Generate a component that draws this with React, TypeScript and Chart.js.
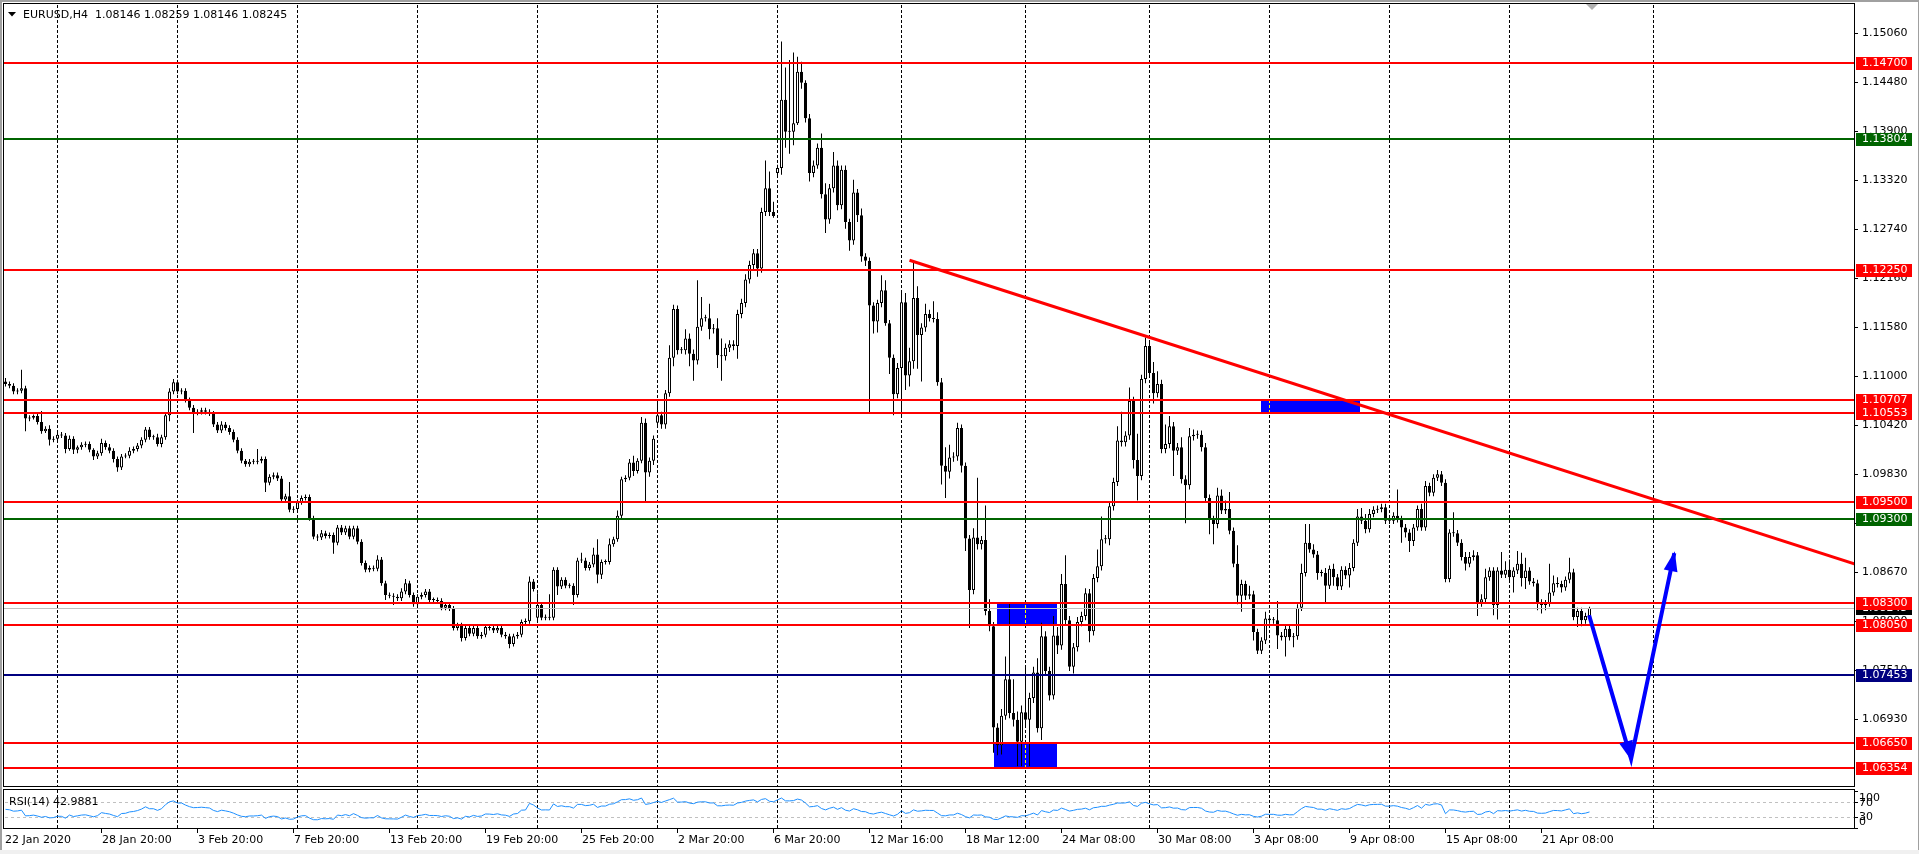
import React, { useEffect, useRef } from "react";
import { Chart, registerables } from "chart.js";

Chart.register(...registerables);

// ---------- data (prices in 1/10000 units) ----------
const PIP = 10000;
const firstOpen = 11093;
const closes = [
  11090, 11088, 11081, 11082, 11085, 11049, 11050, 11052, 11045, 11034,
  11037, 11024, 11025, 11030, 11029, 11013, 11025, 11012, 11015, 11018,
  11019, 11012, 11004, 11008, 11020, 11015, 11011, 11001, 10991, 11004,
  11005, 11011, 11013, 11017, 11024, 11036, 11027, 11027, 11019, 11027,
  11053, 11081, 11092, 11081, 11082, 11071, 11062, 11056, 11057, 11059,
  11057, 11055, 11042, 11035, 11042, 11038, 11033, 11024, 11011, 10999,
  10995, 10998, 10998, 10999, 11001, 10973, 10980, 10982, 10978, 10953,
  10957, 10941, 10942, 10950, 10955, 10956, 10931, 10909, 10908, 10913,
  10910, 10911, 10902, 10920, 10914, 10919, 10909, 10919, 10903, 10878,
  10870, 10872, 10871, 10882, 10854, 10840, 10839, 10838, 10836, 10844,
  10854, 10840, 10829, 10838, 10840, 10844, 10834, 10834, 10833, 10825,
  10828, 10824, 10801, 10804, 10789, 10801, 10794, 10801, 10791, 10793,
  10802, 10801, 10798, 10801, 10793, 10791, 10782, 10791, 10793, 10808,
  10809, 10856, 10847, 10828, 10813, 10814, 10813, 10870, 10850, 10858,
  10851, 10851, 10840, 10881, 10881, 10872, 10876, 10888, 10864, 10879,
  10879, 10900, 10906, 10934, 10977, 10979, 10997, 10987, 10999, 11044,
  10985, 10999, 11025, 11053, 11042, 11079, 11121, 11179, 11130, 11130,
  11144, 11126, 11118, 11158, 11168, 11168, 11155, 11156, 11124, 11123,
  11133, 11137, 11135, 11173, 11186, 11214, 11231, 11245, 11227, 11294,
  11322, 11294, 11289, 11346, 11427, 11389, 11389, 11399, 11460, 11447,
  11405, 11340, 11349, 11370, 11315, 11285, 11322, 11349, 11302, 11344,
  11282, 11260, 11317, 11290, 11241, 11236, 11183, 11164, 11186, 11201,
  11162, 11121, 11078, 11109, 11187, 11100, 11117, 11192, 11148, 11157,
  11173, 11168, 11167, 11092, 10993, 10986, 11003, 11004, 11038, 10993,
  10907, 10846, 10908, 10900, 10905, 10821, 10803, 10683, 10662, 10697,
  10740, 10700, 10692, 10666, 10701, 10692, 10718, 10748, 10682, 10791,
  10750, 10721, 10792, 10780, 10853, 10810, 10755, 10778, 10808, 10815,
  10842, 10797, 10860, 10874, 10906, 10906, 10945, 10974, 11023, 11021,
  11029, 11070, 11000, 10981, 11096, 11135, 11103, 11079, 11090, 11013,
  11019, 11040, 11011, 11015, 10977, 10970, 11028, 11030, 11030, 11015,
  10955, 10930, 10924, 10958, 10940, 10942, 10916, 10877, 10839, 10853,
  10839, 10841, 10796, 10774, 10786, 10812, 10810, 10810, 10792, 10790,
  10800, 10790, 10791, 10825, 10866, 10902, 10894, 10888, 10866, 10866,
  10851, 10871, 10861, 10850, 10870, 10863, 10872, 10902, 10933, 10928,
  10918, 10936, 10941, 10942, 10944, 10928, 10928, 10934, 10930, 10920,
  10914, 10904, 10920, 10942, 10920, 10969, 10961, 10979, 10983, 10973,
  10859, 10914, 10913, 10902, 10885, 10877, 10885, 10887, 10831, 10835,
  10861, 10869, 10828, 10869, 10864, 10870, 10861, 10869, 10877, 10860,
  10869, 10856, 10854, 10831, 10828, 10830, 10843, 10854, 10853, 10849,
  10858, 10867, 10814, 10821, 10810, 10815, 10824.5,
];
const upperWicks = [
  4, 3, 3, 3, 22, 3, 3, 2, 3, 13,
  3, 4, 3, 3, 3, 3, 4, 3, 2, 3,
  3, 3, 2, 3, 5, 3, 4, 3, 3, 3,
  3, 4, 3, 3, 3, 3, 3, 3, 4, 3,
  3, 4, 4, 3, 3, 3, 3, 3, 3, 3,
  3, 3, 3, 3, 4, 3, 3, 3, 3, 3,
  2, 3, 3, 14, 3, 3, 3, 3, 3, 3,
  3, 17, 3, 3, 3, 3, 3, 3, 3, 4,
  3, 3, 3, 3, 3, 3, 3, 3, 3, 3,
  3, 3, 3, 5, 3, 3, 3, 3, 3, 4,
  5, 3, 3, 3, 3, 3, 3, 3, 3, 3,
  3, 3, 3, 3, 3, 3, 3, 3, 3, 3,
  3, 3, 3, 3, 3, 3, 3, 3, 3, 3,
  3, 6, 3, 14, 3, 3, 27, 3, 3, 3,
  3, 3, 3, 3, 9, 3, 3, 8, 18, 3,
  3, 7, 3, 6, 3, 3, 4, 8, 3, 7,
  5, 4, 4, 19, 4, 4, 15, 5, 4, 4,
  11, 6, 5, 55, 25, 4, 17, 5, 12, 20,
  5, 5, 5, 5, 5, 6, 5, 5, 5, 5,
  33, 20, 12, 4, 69, 38, 85, 84, 18, 12,
  3, 5, 6, 5, 17, 13, 5, 16, 6, 5,
  5, 4, 15, 4, 8, 4, 4, 4, 4, 18,
  12, 4, 4, 6, 11, 11, 16, 44, 14, 5,
  12, 5, 20, 8, 5, 22, 15, 5, 6, 4,
  4, 4, 11, 71, 5, 41, 14, 5, 5, 8,
  27, 90, 40, 10, 8, 54, 6, 7, 17, 16,
  6, 5, 23, 10, 12, 34, 5, 5, 6, 5,
  6, 5, 5, 20, 27, 5, 5, 5, 17, 34,
  5, 16, 5, 31, 5, 10, 5, 13, 15, 5,
  23, 12, 5, 5, 12, 5, 10, 6, 5, 5,
  5, 4, 4, 9, 7, 10, 20, 4, 22, 5,
  4, 10, 4, 4, 4, 8, 4, 4, 23, 4,
  4, 4, 4, 4, 11, 22, 22, 6, 4, 4,
  6, 4, 6, 4, 4, 4, 6, 4, 9, 10,
  8, 6, 4, 4, 4, 4, 4, 4, 31, 4,
  4, 4, 4, 4, 6, 6, 4, 4, 5, 4,
  4, 4, 24, 4, 4, 6, 6, 6, 4, 6,
  10, 4, 4, 4, 22, 10, 12, 4, 15, 13,
  15, 4, 4, 4, 4, 4, 34, 9, 7, 4,
  4, 17, 4, 4, 4, 4, 1.4,
];
const lowerWicks = [
  3, 3, 3, 3, 3, 15, 3, 2, 3, 3,
  2, 7, 3, 3, 3, 5, 2, 5, 4, 3,
  3, 3, 4, 3, 3, 3, 3, 4, 5, 3,
  2, 3, 3, 3, 3, 3, 3, 3, 3, 4,
  3, 7, 3, 3, 3, 3, 3, 24, 3, 3,
  3, 3, 3, 3, 3, 3, 3, 3, 3, 3,
  3, 3, 3, 3, 3, 11, 3, 3, 3, 4,
  3, 3, 4, 3, 3, 3, 3, 3, 4, 3,
  3, 3, 13, 3, 3, 3, 3, 3, 3, 3,
  3, 3, 3, 3, 3, 6, 3, 10, 3, 3,
  3, 3, 3, 3, 3, 3, 3, 3, 3, 3,
  3, 3, 3, 3, 4, 3, 3, 3, 3, 3,
  3, 3, 3, 3, 3, 3, 5, 3, 3, 3,
  3, 3, 3, 3, 3, 3, 3, 3, 10, 3,
  3, 3, 12, 3, 3, 3, 3, 3, 10, 5,
  3, 3, 3, 3, 3, 3, 3, 6, 3, 3,
  34, 5, 5, 4, 5, 5, 4, 10, 5, 4,
  5, 15, 24, 5, 5, 4, 12, 5, 15, 29,
  5, 5, 5, 15, 5, 5, 5, 5, 10, 5,
  5, 5, 2, 5, 8, 19, 26, 16, 2, 7,
  5, 10, 5, 4, 5, 16, 5, 5, 6, 5,
  8, 12, 5, 8, 6, 6, 127, 14, 13, 5,
  3, 19, 25, 5, 56, 17, 13, 9, 40, 55,
  5, 4, 4, 4, 22, 31, 8, 5, 5, 8,
  15, 45, 5, 6, 6, 5, 6, 30, 12, 11,
  5, 6, 8, 29, 29, 6, 55, 6, 5, 14,
  5, 6, 5, 10, 5, 5, 5, 8, 5, 5,
  5, 13, 5, 5, 5, 5, 7, 5, 5, 5,
  5, 5, 10, 29, 5, 5, 5, 12, 5, 5,
  5, 5, 30, 5, 5, 45, 5, 5, 5, 5,
  5, 18, 24, 5, 4, 4, 4, 4, 10, 19,
  5, 4, 10, 4, 4, 4, 4, 4, 16, 4,
  23, 4, 12, 4, 4, 4, 4, 4, 8, 4,
  21, 4, 10, 4, 4, 4, 14, 4, 4, 4,
  5, 4, 4, 4, 4, 4, 4, 4, 4, 18,
  6, 13, 6, 4, 4, 4, 4, 4, 4, 4,
  4, 4, 4, 4, 4, 8, 4, 4, 16, 5,
  4, 4, 12, 17, 4, 4, 4, 18, 4, 10,
  13, 4, 4, 9, 10, 6, 4, 4, 4, 6,
  4, 4, 4, 12, 7, 4, 0,
];
// weekend gaps: bars whose open differs from the previous close
const gapBars = [133, 163, 193];
const gapOpens = [10813, 11044, 11340];

const symbolHeader = "EURUSD,H4  1.08146 1.08259 1.08146 1.08245";
const rsiHeader = "RSI(14) 42.9881";
const rsiPeriod = 14;

const priceTickLabels = [
  "1.15060", "1.14480", "1.13900", "1.13320", "1.12740", "1.12160", "1.11580",
  "1.11000", "1.10420", "1.09830", "1.09250", "1.08670", "1.08090", "1.07510", "1.06930",
];

const levelPrices = [1.147, 1.13804, 1.1225, 1.10707, 1.10553, 1.095, 1.093, 1.083, 1.0805, 1.07453, 1.0665, 1.06354];
const levelLabels = ["1.14700", "1.13804", "1.12250", "1.10707", "1.10553", "1.09500", "1.09300", "1.08300", "1.08050", "1.07453", "1.06650", "1.06354"];
const levelColors = ["#ff0000", "#006400", "#ff0000", "#ff0000", "#ff0000", "#ff0000", "#006400", "#ff0000", "#ff0000", "#000080", "#ff0000", "#ff0000"];

const bidPrice = 1.08245;
const bidLabel = "1.08245";

const timeLabels = [
  "22 Jan 2020", "28 Jan 20:00", "3 Feb 20:00", "7 Feb 20:00", "13 Feb 20:00", "19 Feb 20:00",
  "25 Feb 20:00", "2 Mar 20:00", "6 Mar 20:00", "12 Mar 16:00", "18 Mar 12:00", "24 Mar 08:00",
  "30 Mar 08:00", "3 Apr 08:00", "9 Apr 08:00", "15 Apr 08:00", "21 Apr 08:00",
];
const timeLabelBars = [0, 24, 48, 72, 96, 120, 144, 168, 192, 216, 240, 264, 288, 312, 336, 360, 384];
const gridBars = [13, 43, 73, 103, 133, 163, 193, 224, 255, 286, 316, 346, 376, 412];

const boxStartBars = [313.8, 248.0, 247.0];
const boxEndBars = [338.6, 262.85, 262.85];
const boxLows = [1.1057, 1.0805, 1.06354];
const boxHighs = [1.10707, 1.083, 1.0665];

const trendBars = [226, 462.4];
const trendPrices = [1.12367, 1.08767];

const arrowBars = [395.9, 406.4, 417.2];
const arrowPrices = [1.08159, 1.06457, 1.08895];

const rsiLevels = [70, 30];
const rsiAxisValues = [100, 70, 30, 0];
const rsiAxisLabels = ["100", "70", "30", "0"];

// ---------- derived candle table ----------
const opens = closes.map((c, i) => {
  const g = gapBars.indexOf(i);
  if (g >= 0) return gapOpens[g];
  return i === 0 ? firstOpen : closes[i - 1];
});
const highs = closes.map((c, i) => Math.max(opens[i], c) + upperWicks[i]);
const lows = closes.map((c, i) => Math.min(opens[i], c) - lowerWicks[i]);

function wilderRsi(values: number[], period: number) {
  let sumAbs = 0;
  for (let i = 1; i <= period && i < values.length; i++) sumAbs += Math.abs(values[i] - values[i - 1]);
  let ag = sumAbs / period / 2;
  let al = ag;
  const out = [50];
  for (let i = 1; i < values.length; i++) {
    const d = values[i] - values[i - 1];
    ag = (ag * (period - 1) + Math.max(d, 0)) / period;
    al = (al * (period - 1) + Math.max(-d, 0)) / period;
    out.push(al === 0 ? 100 : 100 - 100 / (1 + ag / al));
  }
  return out;
}
const rsiValues = wilderRsi(closes, rsiPeriod);

const FONT = "11px 'DejaVu Sans'";

const mtPlugin = {
  id: "mt4look",
  beforeDraw(chart: any) {
    const ctx = chart.ctx;
    ctx.save();
    ctx.fillStyle = "#ffffff";
    ctx.fillRect(0, 0, chart.width, chart.height);
    ctx.restore();
  },
  beforeDatasetsDraw(chart: any) {
    const ctx = chart.ctx;
    const xs = chart.scales.x;
    const ys = chart.scales.y;
    ctx.save();
    // background rectangles
    ctx.fillStyle = "#0000ff";
    for (let i = 0; i < boxStartBars.length; i++) {
      const x0 = Math.round(xs.getPixelForValue(boxStartBars[i]));
      const x1 = Math.round(xs.getPixelForValue(boxEndBars[i]));
      const y0 = Math.round(ys.getPixelForValue(boxHighs[i]));
      const y1 = Math.round(ys.getPixelForValue(boxLows[i]));
      ctx.fillRect(x0, y0, x1 - x0, y1 - y0);
    }
    // vertical dashed grid (inverted like MT4)
    ctx.globalCompositeOperation = "difference";
    ctx.strokeStyle = "#ffffff";
    ctx.lineWidth = 1;
    ctx.setLineDash([3, 2]);
    for (const b of gridBars) {
      const x = Math.floor(xs.getPixelForValue(b)) + 0.5;
      ctx.beginPath();
      ctx.moveTo(x, 5);
      ctx.lineTo(x, 786);
      ctx.moveTo(x, 790);
      ctx.lineTo(x, 828);
      ctx.stroke();
    }
    ctx.restore();
    // RSI level lines
    const yr = chart.scales.yRsi;
    ctx.save();
    ctx.strokeStyle = "#c0c0c0";
    ctx.setLineDash([3, 3]);
    ctx.lineWidth = 1;
    for (const lv of rsiLevels) {
      const y = Math.round(yr.getPixelForValue(lv)) + 0.5;
      ctx.beginPath();
      ctx.moveTo(5, y);
      ctx.lineTo(1854, y);
      ctx.stroke();
    }
    ctx.restore();
  },
  afterDatasetDraw(chart: any, args: any) {
    if (args.index !== 0) return;
    const ctx = chart.ctx;
    const ys = chart.scales.y;
    ctx.save();
    const yb = Math.round(ys.getPixelForValue(bidPrice));
    ctx.fillStyle = "#c0c0c0";
    ctx.fillRect(4, yb, 1850, 1);
    for (let i = 0; i < levelPrices.length; i++) {
      const y = Math.round(ys.getPixelForValue(levelPrices[i]));
      ctx.fillStyle = levelColors[i];
      ctx.fillRect(4, y - 1, 1850, 2);
    }
    ctx.restore();
  },
  afterDatasetsDraw(chart: any) {
    const ctx = chart.ctx;
    const xs = chart.scales.x;
    const ys = chart.scales.y;
    const yr = chart.scales.yRsi;
    ctx.save();

    // arrow heads
    const pts = arrowBars.map((b, i) => ({ x: xs.getPixelForValue(b), y: ys.getPixelForValue(arrowPrices[i]) }));
    ctx.fillStyle = "#0000ff";
    for (let i = 1; i < pts.length; i++) {
      const a = pts[i - 1];
      const b = pts[i];
      const dx = b.x - a.x;
      const dy = b.y - a.y;
      const len = Math.hypot(dx, dy);
      const ux = dx / len;
      const uy = dy / len;
      const L = 18;
      const W = 7;
      const bx = b.x - ux * L;
      const by = b.y - uy * L;
      ctx.beginPath();
      ctx.moveTo(b.x + ux * 2, b.y + uy * 2);
      ctx.lineTo(bx - uy * W, by + ux * W);
      ctx.lineTo(bx + uy * W, by - ux * W);
      ctx.closePath();
      ctx.fill();
    }

    // window chrome
    ctx.fillStyle = "#a0a0a0";
    ctx.fillRect(0, 0, 1919, 2);
    ctx.fillRect(0, 0, 2, 854);
    ctx.fillRect(1918, 0, 1, 854);
    ctx.fillStyle = "#f0f0f0";
    ctx.fillRect(0, 850, 1919, 4);

    // panel frames
    ctx.strokeStyle = "#000000";
    ctx.lineWidth = 1;
    ctx.setLineDash([]);
    ctx.strokeRect(3.5, 3.5, 1851, 783);
    ctx.strokeRect(3.5, 789.5, 1851, 39);

    // chart shift marker
    ctx.fillStyle = "#b0b0b0";
    ctx.beginPath();
    ctx.moveTo(1586, 4);
    ctx.lineTo(1598, 4);
    ctx.lineTo(1592, 10);
    ctx.closePath();
    ctx.fill();

    ctx.font = FONT;
    ctx.textBaseline = "middle";
    ctx.textAlign = "left";

    // header
    ctx.fillStyle = "#000000";
    ctx.beginPath();
    ctx.moveTo(8, 12);
    ctx.lineTo(16, 12);
    ctx.lineTo(12, 16.5);
    ctx.closePath();
    ctx.fill();
    ctx.fillText(symbolHeader, 23, 15);
    ctx.fillText(rsiHeader, 9, 802);

    // price axis ticks
    for (const lab of priceTickLabels) {
      const y = Math.round(ys.getPixelForValue(parseFloat(lab)));
      ctx.fillRect(1855, y, 3, 1);
      ctx.fillText(lab, 1862, y + 0.5);
    }
    // rsi axis
    const rsiShift = [7, 1, 0, -6];
    for (let i = 0; i < rsiAxisValues.length; i++) {
      const y = Math.round(yr.getPixelForValue(rsiAxisValues[i]));
      ctx.fillRect(1855, y, 3, 1);
      ctx.fillText(rsiAxisLabels[i], 1859, y + rsiShift[i]);
    }

    // bid label
    ctx.fillStyle = "#000000";
    ctx.fillRect(1856, yb(ys) - 6, 56, 13);
    ctx.fillStyle = "#ffffff";
    ctx.fillText(bidLabel, 1862, yb(ys) + 0.5);

    // level labels
    for (let i = 0; i < levelPrices.length; i++) {
      const y = Math.round(ys.getPixelForValue(levelPrices[i]));
      ctx.fillStyle = levelColors[i];
      ctx.fillRect(1856, y - 6, 56, 13);
      ctx.fillStyle = "#ffffff";
      ctx.fillText(levelLabels[i], 1862, y + 0.5);
    }

    // time axis
    ctx.fillStyle = "#000000";
    for (let i = 0; i < timeLabels.length; i++) {
      const x = Math.floor(xs.getPixelForValue(timeLabelBars[i]));
      if (i > 0) ctx.fillRect(x, 829, 1, 4);
      ctx.fillText(timeLabels[i], i === 0 ? 5 : x + 1, 840);
    }
    ctx.restore();
  },
};

function yb(ys: any) {
  return Math.round(ys.getPixelForValue(bidPrice));
}

export default function App() {
  const ref = useRef<HTMLCanvasElement | null>(null);
  useEffect(() => {
    const canvas = ref.current;
    if (!canvas) return;
    const idx = closes.map((_, i) => i);
    const chart = new Chart(canvas, {
      type: "bar",
      data: {
        datasets: [
          {
            type: "bar",
            label: "bodies",
            data: idx.map((i) => ({ x: i, y: [opens[i] / PIP, closes[i] / PIP] })) as any,
            backgroundColor: idx.map((i) => (closes[i] > opens[i] ? "#ffffff" : "#000000")),
            borderColor: "#000000",
            borderWidth: 1,
            borderSkipped: false,
            barThickness: 3,
            minBarLength: 1,
            grouped: false,
            inflateAmount: 0,
            order: 4,
          } as any,
          {
            type: "bar",
            label: "wicks",
            data: idx.map((i) => ({ x: i, y: [lows[i] / PIP, highs[i] / PIP] })) as any,
            backgroundColor: "#000000",
            borderWidth: 0,
            barThickness: 1,
            grouped: false,
            inflateAmount: 0,
            order: 5,
          } as any,
          {
            type: "line",
            label: "rsi",
            yAxisID: "yRsi",
            data: idx.map((i) => ({ x: i, y: rsiValues[i] })),
            borderColor: "#1e90ff",
            borderWidth: 1,
            pointRadius: 0,
            tension: 0,
            order: 3,
          } as any,
          {
            type: "line",
            label: "trend",
            data: trendBars.map((b, i) => ({ x: b, y: trendPrices[i] })),
            borderColor: "#ff0000",
            borderWidth: 3,
            pointRadius: 0,
            order: 2,
          } as any,
          {
            type: "line",
            label: "arrow",
            data: arrowBars.map((b, i) => ({ x: b, y: arrowPrices[i] })),
            borderColor: "#0000ff",
            borderWidth: 4,
            pointRadius: 0,
            borderJoinStyle: "miter",
            order: 1,
          } as any,
        ],
      },
      options: {
        animation: false,
        responsive: false,
        devicePixelRatio: 1,
        events: [],
        layout: { padding: { left: 3, top: 3, right: 64, bottom: 25 } },
        plugins: { legend: { display: false }, tooltip: { enabled: false }, title: { display: false } },
        scales: {
          x: { type: "linear", min: -0.625, max: 462.375, display: false, offset: false },
          y: { type: "linear", min: 1.0562649, max: 1.1541554, display: false },
          yRsi: { type: "linear", min: -3.54, max: 2247.14, display: false },
        },
      } as any,
      plugins: [mtPlugin as any],
    });
    return () => chart.destroy();
  }, []);
  return (
    <div style={{ position: "fixed", left: 0, top: 0, width: 1919, height: 854, background: "#ffffff" }}>
      <canvas ref={ref} width={1919} height={854} style={{ display: "block", width: 1919, height: 854 }} />
    </div>
  );
}
